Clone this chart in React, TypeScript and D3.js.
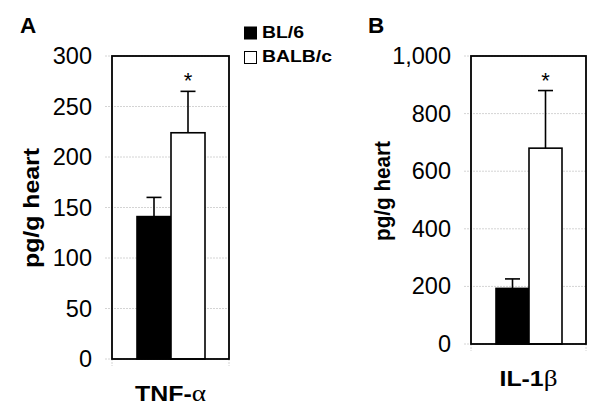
import React from "react";
import * as d3 from "d3";

const strains = ["BL/6", "BALB/c"];
const strainFills = ["#000000", "#ffffff"];
const tnfMeans = [141, 224];
const tnfErrors = [19, 41];
const il1Means = [193, 680];
const il1Errors = [33, 200];
const tnfTicks = [0, 50, 100, 150, 200, 250, 300];
const il1Ticks = [0, 200, 400, 600, 800, 1000];
const significant = [false, true];

const FONT = "'Liberation Sans', Arial, Helvetica, sans-serif";

type PanelProps = {
  letter: string;
  letterX: number;
  means: number[];
  errors: number[];
  ticks: number[];
  max: number;
  left: number;
  right: number;
  top: number;
  bottom: number;
  labelMain: string;
  labelGreek: string;
  yLabelX: number;
  yLabelY: number;
  yLabelSize: number;
  yLabelLen: number;
  xLabelLen: number;
};

function Panel(p: PanelProps) {
  const y = d3.scaleLinear().domain([0, p.max]).range([p.bottom, p.top]);
  const x = d3
    .scaleBand<string>()
    .domain(strains)
    .range([p.left + 25, p.right - 24])
    .padding(0);
  const fmt = d3.format(",");
  const cap = 7.5;
  return (
    <g>
      <text x={p.letterX} y={33} fontFamily={FONT} fontWeight="bold" fontSize={22.5}>
        {p.letter}
      </text>
      {p.ticks.map((t) => (
        <g key={t}>
          <line
            x1={p.left - 7}
            x2={p.right}
            y1={y(t)}
            y2={y(t)}
            stroke="#d4d4d4"
            strokeWidth={1}
            strokeDasharray="2,1"
          />
          <text
            x={p.left - 20}
            y={y(t)}
            textAnchor="end"
            dominantBaseline="central"
            fontFamily={FONT}
            fontSize={23.5}
          >
            {fmt(t)}
          </text>
        </g>
      ))}
      {[p.left, p.right].map((xx) => (
        <line key={xx} x1={xx} x2={xx} y1={p.bottom} y2={p.bottom + 7} stroke="#d4d4d4" strokeDasharray="2,1" />
      ))}
      {strains.map((s, i) => {
        const bx = x(s)!;
        const cx = bx + x.bandwidth() / 2;
        const top = y(p.means[i]);
        const et = y(p.means[i] + p.errors[i]);
        return (
          <g key={s}>
            <line x1={cx} x2={cx} y1={top} y2={et} stroke="#000" strokeWidth={1.6} />
            <line x1={cx - cap} x2={cx + cap} y1={et} y2={et} stroke="#000" strokeWidth={1.6} />
            <rect
              x={bx}
              y={top}
              width={x.bandwidth()}
              height={p.bottom - top}
              fill={strainFills[i]}
              stroke="#000"
              strokeWidth={1.6}
            />
            {significant[i] && (
              <text x={cx} y={et - 3} textAnchor="middle" fontFamily={FONT} fontSize={22}>
                *
              </text>
            )}
          </g>
        );
      })}
      <rect
        x={p.left}
        y={p.top}
        width={p.right - p.left}
        height={p.bottom - p.top}
        fill="none"
        stroke="#000"
        strokeWidth={1.8}
      />
      <text
        x={(p.left + p.right) / 2}
        y={p.bottom + 42}
        textAnchor="middle"
        fontFamily={FONT}
        fontWeight="bold"
        fontSize={22}
        textLength={p.xLabelLen}
        lengthAdjust="spacingAndGlyphs"
      >
        {p.labelMain}
        <tspan fontFamily="'Liberation Serif', 'DejaVu Serif', serif" fontWeight="normal" fontSize={24}>
          {p.labelGreek}
        </tspan>
      </text>
      <text
        transform={`translate(${p.yLabelX},${p.yLabelY}) rotate(-90)`}
        textAnchor="middle"
        fontFamily={FONT}
        fontWeight="bold"
        fontSize={p.yLabelSize}
        textLength={p.yLabelLen}
        lengthAdjust="spacingAndGlyphs"
      >
        pg/g heart
      </text>
    </g>
  );
}

export default function App() {
  return (
    <svg width={600} height={414} style={{ position: "absolute", left: 0, top: 0, background: "#fff" }}>
      <rect width={600} height={414} fill="#fff" />
      <Panel
        letter="A"
        letterX={20}
        means={tnfMeans}
        errors={tnfErrors}
        ticks={tnfTicks}
        max={300}
        left={112}
        right={229}
        top={56}
        bottom={359}
        labelMain="TNF-"
        labelGreek="α"
        yLabelX={38.5}
        yLabelY={208}
        yLabelSize={22.5}
        yLabelLen={120}
        xLabelLen={71}
      />
      <Panel
        letter="B"
        letterX={368}
        means={il1Means}
        errors={il1Errors}
        ticks={il1Ticks}
        max={1000}
        left={471}
        right={586}
        top={56}
        bottom={344}
        labelMain="IL-1"
        labelGreek="β"
        yLabelX={390}
        yLabelY={191}
        yLabelSize={22}
        yLabelLen={100}
        xLabelLen={58}
      />
      <g>
        {strains.map((s, i) => (
          <g key={s}>
            <rect
              x={244.5}
              y={27 + i * 24.5}
              width={12}
              height={12}
              fill={strainFills[i]}
              stroke="#000"
              strokeWidth={1}
            />
            <text
              x={262}
              y={37.5 + i * 24.5}
              fontFamily={FONT}
              fontWeight="bold"
              fontSize={16}
              textLength={i === 0 ? 42 : 70}
              lengthAdjust="spacingAndGlyphs"
            >
              {s}
            </text>
          </g>
        ))}
      </g>
    </svg>
  );
}
